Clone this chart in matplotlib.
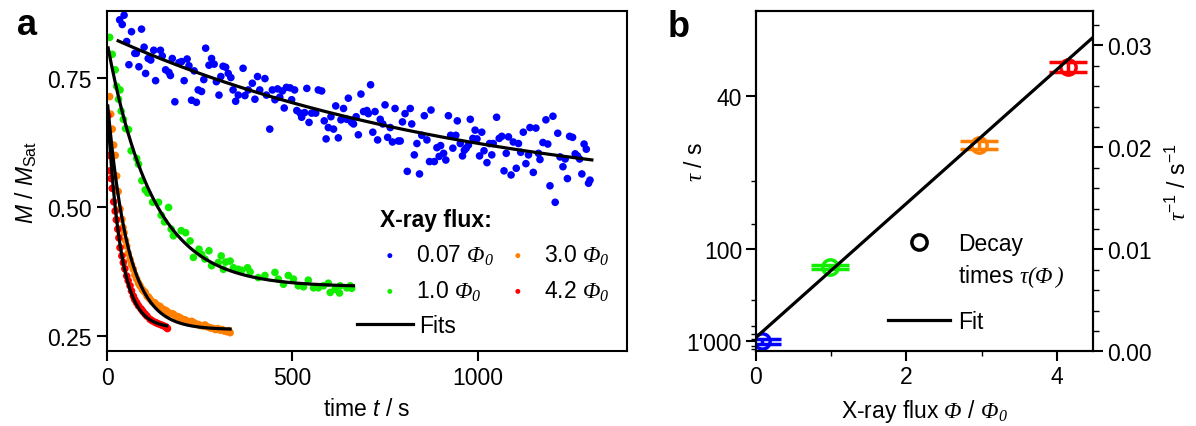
import numpy as np
import matplotlib
matplotlib.use("Agg")
import matplotlib.pyplot as plt
from matplotlib.lines import Line2D
from matplotlib.ticker import FixedLocator, MultipleLocator

plt.rcParams['font.family'] = ['Liberation Sans', 'DejaVu Sans']
plt.rcParams['mathtext.fontset'] = 'custom'
plt.rcParams['mathtext.rm'] = 'Liberation Sans'
plt.rcParams['mathtext.it'] = 'Liberation Sans:italic'
plt.rcParams['mathtext.sf'] = 'Liberation Serif:italic'
plt.rcParams['mathtext.bf'] = 'Liberation Sans:bold'
plt.rcParams['font.size'] = 16.5

# ---------------- panel a: M / M_Sat vs time ----------------
blue_t = [46, 34, 41, 66, 93, 53, 100, 75, 79, 126, 144, 111, 118, 149, 176, 194, 216, 201,
          59, 86, 104, 131, 158, 167, 171, 208, 221, 235, 266, 282, 275, 289, 313, 320, 327,
          334, 307, 295, 367, 261, 246, 255, 183, 228, 241, 302, 340, 354, 372, 347, 381, 392,
          406, 426, 399, 412, 430, 446, 460, 473, 484, 453, 466, 478, 439,
          494, 506, 498, 539, 570, 579, 512, 521, 525, 533, 552, 563, 545, 586, 604, 597, 611,
          591, 624, 617, 638, 651, 685, 711, 631, 647, 660, 665, 672, 692, 701, 705, 723, 737,
          744, 750, 777, 764, 678, 717, 730, 757, 770, 786, 791, 797, 804, 818, 822, 856, 874,
          921, 945, 849, 863, 836, 829, 810, 843, 890, 900, 908, 896, 870, 883, 914, 927, 941,
          933, 953, 959, 964,
          980, 993, 1011, 987, 998, 975, 969, 1005, 1017, 1025, 1038, 1032, 1042, 1051, 1058,
          1065, 1083, 1096, 1110, 1123, 1141, 1157, 1176, 1189, 1184, 1203, 1216, 1248, 1256,
          1287, 1293, 1263, 1269, 1275, 1222, 1236, 1230, 1242, 1281, 1303, 1299, 1195, 1209,
          1150, 1130, 1104, 1090, 1071, 1077, 1116, 1137, 1164, 1168]
blue_m = [.872, .863, .854, .840, .845, .821, .810, .798, .798, .804, .804, .788, .785, .793,
          .788, .780, .787, .782, .776, .772, .759, .745, .766, .761, .755, .745, .774, .764,
          .808, .788, .775, .777, .773, .771, .759, .751, .753, .743, .769, .747, .727, .724,
          .704, .707, .703, .717, .727, .717, .716, .705, .727, .740, .753, .749, .709, .727,
          .717, .727, .729, .725, .732, .708, .713, .692, .651,
          .731, .727, .708, .730, .727, .725, .687, .682, .674, .683, .682, .682, .664, .667,
          .675, .654, .651, .632, .634, .696, .691, .711, .719, .737, .669, .670, .664, .661,
          .675, .685, .687, .681, .685, .670, .661, .698, .691, .654, .640, .645, .630, .635,
          .626, .628, .628, .665, .681, .691, .661, .677, .688, .677, .667, .639, .630, .623,
          .601, .569, .564, .615, .619, .604, .598, .588, .588, .591, .639, .639, .614, .623,
          .599, .610,
          .670, .649, .645, .633, .632, .620, .614, .599, .609, .586, .601, .623, .623, .674,
          .633, .637, .636, .626, .623, .645, .654, .653, .625, .622, .669, .676, .643, .637,
          .635, .622, .612, .603, .599, .593, .597, .593, .578, .555, .564, .552, .546, .541,
          .509, .567, .584, .575, .562, .570, .604, .606, .601, .604, .592]

green_t = [7, 14, 22, 26, 35, 31, 38, 44, 50, 58, 65, 80, 85, 94, 103, 110, 123, 139, 146,
           166, 155, 173, 179, 200, 212, 224, 233, 248, 255, 275, 264, 282, 300, 308, 320,
           332, 314, 341, 354, 363, 379, 386, 408, 426, 453, 462, 476, 489, 503, 516, 530,
           543, 557, 570, 584, 597, 602, 615, 627, 629, 647, 660, 656]
green_m = [.829, .796, .766, .734, .727, .709, .686, .670, .652, .650, .609, .594, .583,
           .551, .533, .527, .509, .509, .484, .499, .471, .457, .444, .454, .450, .434, .402,
           .418, .408, .415, .399, .386, .392, .405, .393, .395, .379, .382, .379, .377, .382,
           .374, .363, .367, .373, .360, .350, .367, .360, .347, .345, .358, .343, .343, .347,
           .352, .334, .340, .333, .347, .343, .342, .347]

orange_t = [7, 10, 14, 18, 22, 26, 30, 35, 40, 43, 46, 50, 53, 57, 62, 66, 71, 75, 80, 85,
            89, 95, 100, 103, 108, 112, 116, 122, 129, 136, 143, 150, 156, 161, 168, 174,
            179, 186, 192, 197, 204, 210, 215, 222, 228, 233, 240, 246, 251, 258, 264, 269,
            276, 281, 287, 293, 299, 305, 311, 317, 323, 328, 332]
orange_m = [.714, .680, .651, .620, .600, .560, .530, .496, .476, .460, .450, .435, .424,
            .410, .398, .388, .379, .368, .360, .352, .347, .340, .336, .334, .327, .325, .321,
            .316, .314, .309, .307, .302, .300, .298, .294, .293, .292, .288, .287, .285, .282,
            .281, .279, .277, .278, .276, .273, .272, .270, .269, .271, .268, .266, .265, .264,
            .262, .264, .261, .262, .259, .258, .260, .256]

red_t = [2, 5, 8, 11, 14, 18, 22, 25, 29, 32, 35, 40, 44, 48, 53, 57, 62, 66, 71, 75, 80,
         85, 92, 97, 103, 108, 116, 122, 130, 136, 143, 150, 157, 160, 163]
red_m = [.677, .600, .570, .555, .536, .510, .492, .475, .457, .440, .421, .405, .392, .380,
         .366, .357, .347, .337, .327, .320, .314, .308, .302, .297, .292, .288, .282, .279,
         .276, .274, .272, .270, .268, .266, .264]

# exponential fits: M(t) = offset + amp * exp(-t / tau), drawn from t_start to t_end
fit_offset = [0.502, 0.345, 0.262, 0.265]
fit_amp = [0.330, 0.475, 0.450, 0.440]
fit_tau = [1000, 122, 55, 35]
fit_start = [30, 3, 2, 2]
fit_end = [1308, 665, 332, 161]

series_labels = [r'0.07 $\mathsf{\Phi_0}$', r'1.0 $\mathsf{\Phi_0}$',
                 r'3.0 $\mathsf{\Phi_0}$', r'4.2 $\mathsf{\Phi_0}$']
colors = ['#0000ff', '#11ee00', '#ff8000', '#ff0000']

# ---------------- panel b: decay rates vs flux ----------------
flux = [0.08, 0.99, 2.97, 4.15]
inv_tau = [0.00098, 0.00825, 0.0202, 0.0279]
inv_tau_err = [0.00023, 0.0002, 0.0004, 0.0005]
line_intercept = 0.00137
line_slope = 0.00656

tau_major = [40, 100, 1000]
tau_major_labels = ['40', '100', "1'000"]
tau_minor = [60, 80, 200, 400, 600, 800, 2000, 4000]

fig = plt.figure(figsize=(11.96, 4.27), dpi=100)
axa = fig.add_axes([0.0895, 0.1763, 0.4345, 0.7948])
axb = fig.add_axes([0.6321, 0.1749, 0.2820, 0.7963])

datasets = [(blue_t, blue_m), (green_t, green_m), (orange_t, orange_m), (red_t, red_m)]
handles = []
for (t, m), c, lab in zip(datasets, colors, series_labels):
    h = axa.scatter(t, m, s=30, color=c, edgecolors='none', label=lab, zorder=2)
    handles.append(h)
for i in range(4):
    tt = np.linspace(fit_start[i], fit_end[i], 300)
    axa.plot(tt, fit_offset[i] + fit_amp[i] * np.exp(-tt / fit_tau[i]), color='k', lw=2.3,
             zorder=3)

axa.set_xlim(0, 1402)
axa.set_ylim(0.221, 0.8795)
axa.set_xticks([0, 500, 1000])
axa.set_yticks([0.25, 0.50, 0.75])
axa.set_yticklabels(['0.25', '0.50', '0.75'])
axa.tick_params(direction='out', length=7, width=1.5, pad=4)
for sp in axa.spines.values():
    sp.set_linewidth(1.5)
axa.set_xlabel(r'time $t$ / s', labelpad=6)
axa.set_ylabel(r'$M$ / $M_{\mathrm{Sat}}$', labelpad=6)

leg1 = axa.legend(handles=handles, ncol=2,
                  title='X-ray flux:', title_fontproperties={'weight': 'bold', 'size': 16.5},
                  alignment='left', frameon=False, loc='upper left',
                  bbox_to_anchor=(0.525, 0.42), borderpad=0, borderaxespad=0,
                  handlelength=0.87, handletextpad=0.7, columnspacing=0.6,
                  labelspacing=0.5, markerscale=0.65)
axa.add_artist(leg1)
axa.legend(handles=[Line2D([], [], color='k', lw=2.3)], labels=['Fits'], frameon=False,
           loc='center left', bbox_to_anchor=(0.4805, 0.0737), borderpad=0, borderaxespad=0,
           handlelength=2.47, handletextpad=0.25)

# panel b
for x, y, e, c in zip(flux, inv_tau, inv_tau_err, colors):
    axb.errorbar([x], [y], yerr=[e], fmt='o', mfc='none', mec=c, ecolor=c, ms=11, mew=2.5,
                 elinewidth=2.5, capsize=14, capthick=3, zorder=2)
axb.set_xlim(0, 4.486)
axb.set_ylim(0, 1 / 30)
xl = np.array(axb.get_xlim())
axb.plot(xl, line_intercept + line_slope * xl, color='k', lw=2.3, zorder=3)

axb.set_xticks([0, 2, 4])
axb.xaxis.set_minor_locator(FixedLocator([1, 3]))
axb.yaxis.set_major_locator(FixedLocator([1 / v for v in tau_major]))
axb.set_yticklabels(tau_major_labels)
axb.yaxis.set_minor_locator(FixedLocator([1 / v for v in tau_minor]))
axb.tick_params(which='major', direction='out', length=7, width=1.5, pad=3)
axb.tick_params(which='minor', direction='out', length=3.5, width=1)
for sp in axb.spines.values():
    sp.set_linewidth(1.5)
axb.set_xlabel(r'X-ray flux $\mathsf{\Phi}$ / $\mathsf{\Phi_0}$', labelpad=6)
axb.set_ylabel(r'$\mathsf{\tau}$ / s')
axb.yaxis.set_label_coords(-0.145, 0.56)

ax2 = axb.twinx()
ax2.set_ylim(0, 1 / 30)
ax2.set_yticks([0, 0.01, 0.02, 0.03])
ax2.set_yticklabels(['0.00', '0.01', '0.02', '0.03'])
ax2.yaxis.set_minor_locator(MultipleLocator(0.002))
ax2.tick_params(which='major', direction='out', length=7, width=1.5, pad=3)
ax2.tick_params(which='minor', direction='out', length=4.5, width=1)
for sp in ax2.spines.values():
    sp.set_linewidth(1.5)
ax2.set_ylabel(r'$\mathsf{\tau}^{-1}$ / s$^{-1}$', labelpad=10)

legb = ax2.legend(handles=[Line2D([], [], marker='o', ls='none', mfc='none', mec='k', ms=11,
                                  mew=2.5),
                           Line2D([], [], ls='none')],
                  labels=['Decay', r'times $\mathsf{\tau(\Phi\,)}$'],
                  frameon=False, loc='upper left', bbox_to_anchor=(0.391, 0.35), borderpad=0,
                  borderaxespad=0, handlelength=2.7, handletextpad=0.35, labelspacing=0.3)
ax2.add_artist(legb)
ax2.legend(handles=[Line2D([], [], color='k', lw=2.3)], labels=['Fit'], frameon=False,
           loc='center left', bbox_to_anchor=(0.391, 0.087), borderpad=0, borderaxespad=0,
           handlelength=2.7, handletextpad=0.35)

fig.text(0.014, 0.918, 'a', fontsize=26, fontweight='bold', va='baseline')
fig.text(0.5585, 0.913, 'b', fontsize=26, fontweight='bold', va='baseline')

fig.savefig('out.png', dpi=100)
